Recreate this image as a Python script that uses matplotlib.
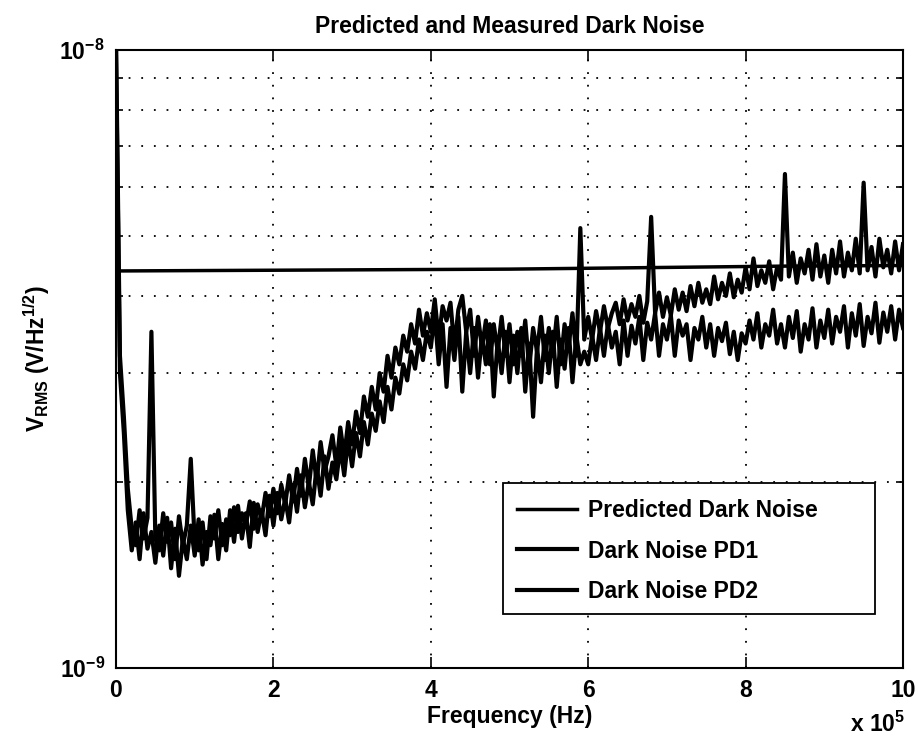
import numpy as np
import matplotlib
matplotlib.use('Agg')
import matplotlib.pyplot as plt
from matplotlib.patches import Rectangle
from matplotlib.ticker import LogLocator, FixedLocator, NullFormatter, FuncFormatter

plt.rcParams['font.family'] = ['Liberation Sans', 'DejaVu Sans']
plt.rcParams['font.weight'] = 'bold'
plt.rcParams['mathtext.fontset'] = 'custom'
plt.rcParams['mathtext.rm'] = 'Liberation Sans:bold'
plt.rcParams['mathtext.it'] = 'Liberation Sans:bold'
plt.rcParams['mathtext.bf'] = 'Liberation Sans:bold'

# frequency bins (Hz), one every 5 kHz
freq = np.linspace(0, 1e6, 201)

# measured dark noise, in units of 1e-9 V/rtHz
pd1 = [
    9.9, 3.0, 2.4, 1.8, 1.55, 1.72, 1.5, 1.78, 1.56, 1.66,
    1.48, 1.7, 1.52, 1.75, 1.45, 1.68, 1.41, 1.62, 1.5, 1.7,
    1.52, 1.74, 1.47, 1.66, 1.58, 1.77, 1.5, 1.71, 1.55, 1.8,
    1.6, 1.83, 1.62, 1.78, 1.57, 1.85, 1.66, 1.8, 1.64, 1.9,
    1.7, 1.92, 1.74, 1.88, 1.72, 1.98, 1.79, 2.05, 1.82, 2.0,
    1.84, 2.12, 1.9, 2.2, 1.95, 2.15, 2.02, 2.28, 2.05, 2.35,
    2.12, 2.4, 2.2, 2.5, 2.3, 2.58, 2.42, 2.7, 2.5, 2.85,
    2.62, 2.95, 2.78, 3.1, 2.92, 3.25, 3.05, 3.4, 3.15, 3.5,
    3.3, 3.75, 3.1, 3.6, 2.85, 3.55, 3.15, 3.7, 2.8, 3.5,
    3.0, 3.55, 2.95, 3.45, 3.1, 3.6, 2.75, 3.4, 3.0, 3.5,
    2.9, 3.45, 3.0, 3.55, 2.8, 3.35, 2.55, 3.3, 2.9, 3.45,
    3.0, 3.5, 2.85, 3.4, 3.05, 3.55, 2.9, 3.45, 3.1, 3.25,
    3.1, 3.45, 3.15, 3.55, 3.2, 3.6, 3.3, 3.5, 3.1, 3.65,
    3.2, 3.58, 3.35, 3.7, 3.15, 3.62, 3.4, 3.75, 3.2, 3.6,
    3.4, 3.72, 3.2, 3.65, 3.45, 3.6, 3.15, 3.55, 3.4, 3.7,
    3.3, 3.6, 3.2, 3.55, 3.38, 3.62, 3.22, 3.5, 3.15, 3.48,
    3.35, 3.65, 3.4, 3.75, 3.3, 3.6, 3.45, 3.8, 3.35, 3.6,
    3.3, 3.7, 3.42, 3.78, 3.25, 3.6, 3.4, 3.82, 3.3, 3.65,
    3.42, 3.8, 3.35, 3.7, 3.5, 3.85, 3.3, 3.75, 3.45, 3.88,
    3.32, 3.7, 3.48, 3.9, 3.36, 3.76, 3.5, 3.85, 3.4, 3.8,
    3.55,
]
pd2 = [
    10.5, 3.2, 2.55, 1.95, 1.68, 1.58, 1.8, 1.62, 1.75, 3.5,
    1.62, 1.55, 1.78, 1.6, 1.72, 1.5, 1.76, 1.58, 1.7, 2.18,
    1.6, 1.55, 1.72, 1.5, 1.76, 1.62, 1.8, 1.58, 1.74, 1.64,
    1.82, 1.66, 1.78, 1.7, 1.86, 1.68, 1.84, 1.74, 1.92, 1.76,
    1.95, 1.78, 1.98, 1.84, 2.05, 1.86, 2.1, 1.9, 2.18, 1.96,
    2.25, 2.0, 2.32, 2.08, 2.2, 2.38, 2.12, 2.45, 2.2, 2.5,
    2.3, 2.6, 2.4, 2.75, 2.55, 2.85, 2.62, 3.0, 2.8, 3.2,
    2.95, 3.3, 3.1, 3.45, 3.25, 3.6, 3.35, 3.8, 3.45, 3.75,
    3.5, 3.95, 3.4, 3.85, 3.65, 3.9, 3.3, 3.8, 4.0, 3.5,
    3.8, 3.2, 3.7, 3.3, 3.65, 3.1, 3.6, 3.25, 3.7, 3.2,
    3.6, 3.1, 3.5, 3.2, 3.65, 3.05, 3.55, 3.25, 3.7, 3.15,
    3.55, 3.2, 3.7, 3.1, 3.6, 3.3, 3.75, 3.2, 5.15, 3.4,
    3.7, 3.4, 3.78, 3.5, 3.85, 3.55, 3.75, 3.9, 3.6, 3.95,
    3.65, 3.88, 3.7, 4.0, 3.62, 3.92, 5.37, 3.75, 4.05, 3.7,
    3.98, 3.72, 4.1, 3.8, 4.05, 3.78, 4.15, 3.85, 4.2, 3.9,
    4.1, 3.88, 4.3, 3.95, 4.2, 4.0, 4.35, 3.98, 4.25, 4.05,
    4.45, 4.1, 4.6, 4.15, 4.4, 4.2, 4.55, 4.1, 4.45, 4.25,
    6.3, 4.3, 4.7, 4.2, 4.6, 4.35, 4.75, 4.25, 4.85, 4.3,
    4.65, 4.2, 4.75, 4.35, 4.9, 4.3, 4.7, 4.4, 4.95, 4.35,
    6.1, 4.4, 4.8, 4.3, 4.95, 4.45, 4.75, 4.35, 4.9, 4.4,
    4.85,
]

# predicted dark noise (1e-9 V/rtHz)
pred_freq = [0, 5e5, 8.5e5, 1e6]
pred = [4.39, 4.42, 4.47, 4.48]

fig = plt.figure(figsize=(9.18, 7.38), dpi=100)
ax = fig.add_axes([116 / 918, 70 / 738, 787 / 918, 618 / 738])

ax.plot(pred_freq, np.array(pred) * 1e-9, color='black', lw=2.5, label='Predicted Dark Noise')
ax.plot(freq, np.array(pd1) * 1e-9, color='black', lw=3.0, label='Dark Noise PD1')
ax.plot(freq, np.array(pd2) * 1e-9, color='black', lw=3.0, label='Dark Noise PD2')

ax.set_yscale('log')
ax.set_xlim(0, 1e6)
ax.set_ylim(1e-9, 1e-8)

ax.xaxis.set_major_locator(FixedLocator([0, 2e5, 4e5, 6e5, 8e5, 1e6]))
ax.xaxis.set_major_formatter(FuncFormatter(lambda v, p: '%d' % round(v / 1e5)))
ax.yaxis.set_major_locator(FixedLocator([1e-9, 1e-8]))
ax.yaxis.set_major_formatter(FuncFormatter(lambda v, p: r'$10^{%d}$' % round(np.log10(v))))
ax.yaxis.set_minor_locator(LogLocator(base=10, subs=np.arange(2, 10)))
ax.yaxis.set_minor_formatter(NullFormatter())

ax.tick_params(which='both', direction='in', top=True, right=True, labelsize=16.5, width=1.2)
ax.tick_params(which='major', length=8, pad=8)
ax.tick_params(which='minor', length=5)

dots = (0, (1, 6))
ax.grid(True, which='major', axis='x', color='black', ls=dots, lw=1.3)
ax.grid(True, which='minor', axis='y', color='black', ls=dots, lw=1.3)

for s in ax.spines.values():
    s.set_linewidth(1.5)

ax.set_title('Predicted and Measured Dark Noise', fontsize=16.5, fontweight='bold', pad=12)
ax.set_xlabel('Frequency (Hz)', fontsize=16.5, fontweight='bold', labelpad=2)
fig.text(37 / 918, 1 - 359 / 738, r'V$_{\mathrm{RMS}}$ (V/Hz$^{\mathrm{1/2}}$)',
         rotation=90, ha='center', va='center', fontsize=16.5, fontweight='bold')
fig.text(878 / 918, 1 - 724 / 738, r'x 10$^{\mathrm{5}}$', ha='center', va='center',
         fontsize=16.5, fontweight='bold')

# legend box drawn separately so it can be as wide as the original one
box = Rectangle((0.4917, 0.0874), 0.4727, 0.212, transform=ax.transAxes,
                facecolor='white', edgecolor='black', lw=1.3, zorder=4)
ax.add_patch(box)
leg = ax.legend(loc='center left', bbox_to_anchor=(0.5095, 0.1893), fontsize=16.5,
                frameon=False, handlelength=2.6, handletextpad=0.5,
                labelspacing=0.78, borderpad=0, borderaxespad=0)
leg.set_zorder(5)

fig.savefig('out.png', dpi=100)
